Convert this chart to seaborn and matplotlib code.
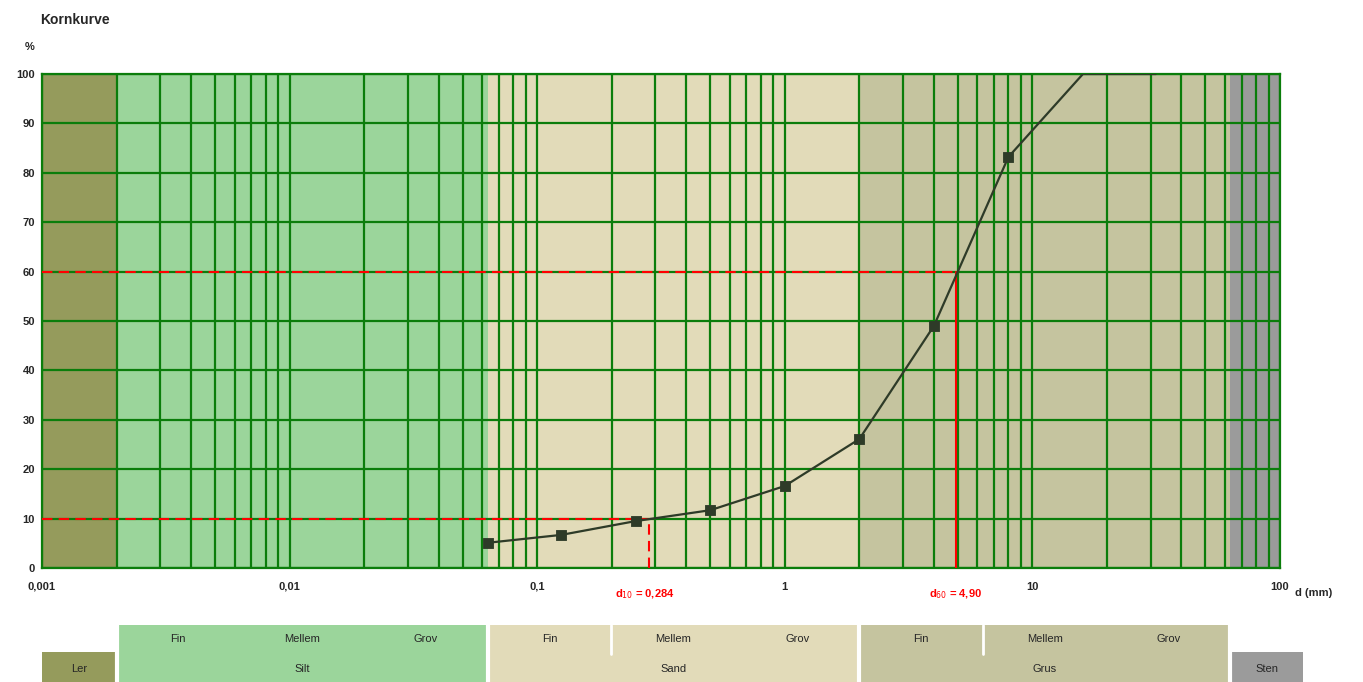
import seaborn as sns
import matplotlib.pyplot as plt
import matplotlib.transforms as mtransforms
import pandas as pd
import numpy as np

# Sieve data (grain size in mm, passing in %)
grain_mm = [0.063, 0.125, 0.25, 0.5, 1, 2, 4, 8, 16, 31.5]
passing = [5.1, 6.7, 9.5, 11.7, 16.6, 26.1, 49.0, 83.2, 100, 100]

d10 = 0.284
d60 = 4.90
d10_label = 'd$_{10}$ = 0,284'
d60_label = 'd$_{60}$ = 4,90'

# Soil classes (bounds in mm)
class_names = ['Ler', 'Silt', 'Sand', 'Grus', 'Sten']
class_lo = [0.001, 0.002, 0.063, 2, 63]
class_hi = [0.002, 0.063, 2, 63, 125]
class_colors = ['#959b5c', '#9bd59b', '#e2dbb9', '#c5c49f', '#9b9b9b']
sub_names = ['Fin', 'Mellem', 'Grov']

xtick_vals = [0.001, 0.01, 0.1, 1, 10, 100]
xtick_labels = ['0,001', '0,01', '0,1', '1', '10', '100']
ytick_vals = list(range(0, 101, 10))

sns.set_style('white')
plt.rcParams['font.family'] = ['Liberation Sans', 'DejaVu Sans']

df = pd.DataFrame({'d': grain_mm, 'p': passing})

W, H = 1363, 682
fig = plt.figure(figsize=(W / 100, H / 100), dpi=100)

# main chart axes, placed in pixels
x0, x1 = 42, 1280
yt, yb = 74, 568
ax = fig.add_axes([x0 / W, 1 - yb / H, (x1 - x0) / W, (yb - yt) / H])
ax.set_xscale('log')
ax.set_xlim(0.001, 100)
ax.set_ylim(0, 100)

for lo, hi, c in zip(class_lo, class_hi, class_colors):
    ax.axvspan(lo, min(hi, 100), color=c, lw=0, zorder=0)

grid_green = '#0b7d0b'
ax.set_xticks(xtick_vals)
ax.set_xticklabels(xtick_labels, fontsize=8, fontweight='bold')
ax.set_yticks(ytick_vals)
ax.set_yticklabels([str(v) for v in ytick_vals], fontsize=8, fontweight='bold')
ax.grid(True, which='both', axis='x', color=grid_green, lw=1.6, zorder=1)
ax.grid(True, which='major', axis='y', color=grid_green, lw=1.6, zorder=1)
ax.tick_params(axis='x', which='major', length=8, color=grid_green, width=1.2, pad=2, direction='out')
ax.tick_params(axis='x', which='minor', length=0)
ax.tick_params(axis='y', length=4, color=grid_green, width=1.2, pad=1)
ax.set_axisbelow(False)
for s in ax.spines.values():
    s.set_color(grid_green)
    s.set_linewidth(1.6)

# reference lines
ax.plot([0.001, d10], [10, 10], color='red', ls=(0, (5, 3)), lw=1.5, zorder=3)
ax.plot([d10, d10], [0, 10], color='red', ls=(0, (5, 3)), lw=1.5, zorder=3)
ax.plot([0.001, d60], [60, 60], color='red', ls=(0, (5, 3)), lw=1.5, zorder=3)
ax.plot([d60, d60], [0, 60], color='red', ls='-', lw=1.5, zorder=3)

# grading curve
sns.lineplot(data=df, x='d', y='p', ax=ax, color='#2e3b28', lw=1.6, zorder=4)
mk = df[df['p'] < 100]
sns.scatterplot(data=mk, x='d', y='p', ax=ax, marker='s', s=60, color='#2e3b28',
                edgecolor='#2e3b28', zorder=5)
ax.set_xlabel('')
ax.set_ylabel('')

tr = mtransforms.blended_transform_factory(ax.transData, ax.transAxes)
ax.text(d10 * 0.96, -0.04, d10_label, transform=tr, color='red', fontsize=8,
        fontweight='bold', ha='center', va='top')
ax.text(d60, -0.04, d60_label, transform=tr, color='red', fontsize=8,
        fontweight='bold', ha='center', va='top')
ax.text(1.012, -0.04, 'd (mm)', transform=ax.transAxes, fontsize=8,
        fontweight='bold', ha='left', va='top')
fig.text(30 / W, 1 - 47 / H, '%', fontsize=8, fontweight='bold', ha='center', va='center')
fig.text(40 / W, 1 - 20 / H, 'Kornkurve', fontsize=10, fontweight='bold', ha='left', va='center')

# classification table below
decade = (x1 - x0) / 5.0
tx1 = 1302
tab = fig.add_axes([x0 / W, 0, (tx1 - x0) / W, 57 / H])
tab.set_xscale('log')
tab.set_xlim(0.001, 10 ** (-3 + (tx1 - x0) / decade))
tab.set_ylim(0, 2)
tab.axis('off')

for i, (name, lo, hi, c) in enumerate(zip(class_names, class_lo, class_hi, class_colors)):
    has_sub = name in ('Silt', 'Sand', 'Grus')
    top = 2 if has_sub else 1.05
    tab.fill_between([lo, hi], 0, top, color=c, lw=0)
    if i > 0:
        tab.axvline(lo, color='white', lw=3)
    ymid = 0.5 if has_sub else 0.5
    tab.text(np.sqrt(lo * hi), 0.45, name, fontsize=8, ha='center', va='center')
    if has_sub:
        edges = np.geomspace(lo, hi, 4)
        for j, sn in enumerate(sub_names):
            tab.text(np.sqrt(edges[j] * edges[j + 1]), 1.5, sn, fontsize=8,
                     ha='center', va='center')
        if name != 'Silt':
            tab.plot([edges[1], edges[1]], [1.0, 2], color='white', lw=2)

fig.savefig('out.png', dpi=100)
